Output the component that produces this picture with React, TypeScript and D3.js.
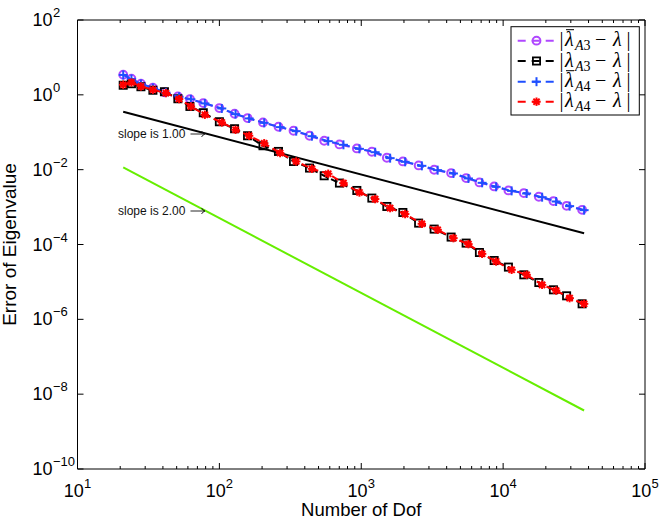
import React from 'react';
import * as d3 from 'd3';

const dofA3 = [21, 24, 28, 34, 41, 51, 62, 77, 100, 128, 158, 203, 261, 333, 432, 548, 702, 931, 1188, 1515, 1965, 2538, 3264, 4300, 5486, 6807, 8644, 10897, 13990, 17850, 22620, 28020, 36040];
const dofA4 = [21, 24, 28, 34, 42, 52, 63, 79, 104, 130, 162, 207, 268, 348, 449, 585, 749, 971, 1253, 1598, 2039, 2674, 3454, 4464, 5693, 7112, 8927, 11479, 14640, 18830, 23630, 29420, 37220];
const errBarA3 = [3.446, 2.695, 1.981, 1.548, 1.173, 0.906, 0.772, 0.603, 0.4437, 0.3124, 0.2397, 0.1828, 0.1403, 0.1097, 0.0806, 0.0593, 0.0472, 0.0369, 0.0301, 0.0208, 0.01657, 0.01295, 0.00994, 0.00811, 0.00596, 0.00455, 0.00356, 0.00278, 0.00237, 0.001886, 0.001447, 0.001083, 0.000847];
const errA3 = [1.806, 1.981, 1.647, 1.327, 1.21, 0.786, 0.4896, 0.3322, 0.1909, 0.1241, 0.0806, 0.0436, 0.0307, 0.01657, 0.01104, 0.00687, 0.00438, 0.00278, 0.00174, 0.001038, 0.000717, 0.000373, 0.000258, 0.000158, 0.000109, 6.11e-5, 3.73e-5, 2.49e-5, 1.548e-5, 9.64e-6, 6.15e-6, 4.25e-6, 2.6e-6];
const errBarA4 = [3.4, 2.66, 1.96, 1.53, 1.15, 0.89, 0.76, 0.59, 0.432, 0.305, 0.234, 0.178, 0.137, 0.107, 0.0785, 0.0578, 0.0462, 0.036, 0.0293, 0.0203, 0.0162, 0.01265, 0.0097, 0.00792, 0.00582, 0.00445, 0.00348, 0.00271, 0.00231, 0.00184, 0.00141, 0.00106, 0.000828];
const errA4 = [1.863, 2.146, 1.677, 1.369, 1.117, 0.772, 0.4896, 0.2937, 0.1828, 0.1166, 0.0806, 0.0508, 0.0278, 0.01657, 0.01057, 0.00777, 0.00438, 0.002458, 0.001636, 0.00094, 0.00065, 0.000358, 0.000247, 0.000148, 0.0001025, 5.64e-5, 3.51e-5, 2.11e-5, 1.548e-5, 8.36e-6, 5.89e-6, 3.69e-6, 2.6e-6];

const refDof = [21, 37220];
const slope1Err = [0.353, 1.99e-4];
const slope2Err = [0.0115, 3.66e-9];

const xTickExps = [1, 2, 3, 4, 5];
const yTickExps = [-10, -8, -6, -4, -2, 0, 2];
const slopeLabels = ['slope is 1.00 ', 'slope is 2.00 '];
const legendSubs = ['A3', 'A3', 'A4', 'A4'];
const legendBars = [true, false, true, false];

const PURPLE = '#b048ff';
const BLUE = '#1f4fff';
const RED = '#ff0000';
const BLACK = '#000000';
const GREEN = '#66ee00';

const L = 77.5, R = 645, T = 20, B = 469;
const SANS = '"Liberation Sans", Arial, Helvetica, sans-serif';
const SERIF = '"Liberation Serif", "Times New Roman", serif';

function Marker({ kind, x, y, color }: { kind: string; x: number; y: number; color: string }) {
  if (kind === 'circle') return <circle cx={x} cy={y} r={3.9} fill="none" stroke={color} strokeWidth={2} />;
  if (kind === 'square') return <rect x={x - 3.6} y={y - 3.6} width={7.2} height={7.2} fill="none" stroke={color} strokeWidth={1.8} />;
  if (kind === 'plus')
    return (
      <g stroke={color} strokeWidth={2}>
        <line x1={x - 4.5} x2={x + 4.5} y1={y} y2={y} />
        <line x1={x} x2={x} y1={y - 4.5} y2={y + 4.5} />
      </g>
    );
  const a = 4.2, d = 3.1;
  return (
    <g stroke={color} strokeWidth={2}>
      <circle cx={x} cy={y} r={2.8} fill={color} stroke="none" />
      <line x1={x - a} x2={x + a} y1={y} y2={y} />
      <line x1={x} x2={x} y1={y - a} y2={y + a} />
      <line x1={x - d} x2={x + d} y1={y - d} y2={y + d} />
      <line x1={x - d} x2={x + d} y1={y + d} y2={y - d} />
    </g>
  );
}

function Arrow({ x0, y0 }: { x0: number; y0: number }) {
  return (
    <g stroke="#111" strokeWidth={0.9} fill="none">
      <line x1={x0} x2={x0 + 14} y1={y0} y2={y0} />
      <path d={`M${x0 + 11},${y0 - 3} Q${x0 + 12.5},${y0 - 0.5} ${x0 + 14.5},${y0} Q${x0 + 12.5},${y0 + 0.5} ${x0 + 11},${y0 + 3}`} />
    </g>
  );
}

export default function App() {
  const x = d3.scaleLog().domain([10, 1e5]).range([L, R]);
  const y = d3.scaleLog().domain([1e-10, 1e2]).range([B, T]);
  const line = (xs: number[], ys: number[]) =>
    d3.line<number>().x((_, i) => x(xs[i])).y((v) => y(v))(ys) || '';

  const series = [
    { xs: dofA3, ys: errBarA3, color: PURPLE, kind: 'circle' },
    { xs: dofA3, ys: errA3, color: BLACK, kind: 'square' },
    { xs: dofA4, ys: errBarA4, color: BLUE, kind: 'plus' },
    { xs: dofA4, ys: errA4, color: RED, kind: 'star' },
  ];

  const minor: number[] = [];
  for (let k = 1; k < 5; k++) for (let m = 2; m <= 9; m++) minor.push(m * Math.pow(10, k));

  const legRows = [40.7, 61, 81.7, 101.7];
  const slopeY = [138, 215];

  return (
    <svg width={664} height={523} style={{ position: 'absolute', left: 0, top: 0, background: '#fff' }}>
      <rect x={0} y={0} width={664} height={523} fill="#fff" />
      {/* reference lines */}
      <path d={line(refDof, slope1Err)} fill="none" stroke={BLACK} strokeWidth={2} />
      <path d={line(refDof, slope2Err)} fill="none" stroke={GREEN} strokeWidth={2} />
      {/* series */}
      {series.map((s, si) => (
        <g key={si}>
          <path d={line(s.xs, s.ys)} fill="none" stroke={s.color} strokeWidth={2} strokeDasharray="7,4" />
          {s.ys.map((v, i) => (
            <Marker key={i} kind={s.kind} x={x(s.xs[i])} y={y(v)} color={s.color} />
          ))}
        </g>
      ))}
      {/* slope annotations */}
      {slopeLabels.map((t, i) => (
        <g key={'sl' + i}>
          <text x={118} y={slopeY[i]} fontFamily={SANS} fontSize={12} fill="#111">{t}</text>
          <Arrow x0={190.5} y0={slopeY[i] - 4} />
        </g>
      ))}
      {/* axes box */}
      <g stroke="#000" strokeWidth={1} fill="none">
        <line x1={L} x2={R} y1={T} y2={T} />
        <line x1={L} x2={R} y1={B} y2={B} />
        <line x1={L} x2={L} y1={T} y2={B} />
        <line x1={R} x2={R} y1={T} y2={B} />
        {xTickExps.map((e) => {
          const px = x(Math.pow(10, e));
          return (
            <g key={'xt' + e}>
              <line x1={px} x2={px} y1={B} y2={B - 6} />
              <line x1={px} x2={px} y1={T} y2={T + 6} />
            </g>
          );
        })}
        {minor.map((v) => {
          const px = x(v);
          return (
            <g key={'xm' + v}>
              <line x1={px} x2={px} y1={B} y2={B - 3} />
              <line x1={px} x2={px} y1={T} y2={T + 3} />
            </g>
          );
        })}
        {yTickExps.map((e) => {
          const py = y(Math.pow(10, e));
          return (
            <g key={'yt' + e}>
              <line x1={L} x2={L + 6} y1={py} y2={py} />
              <line x1={R} x2={R - 6} y1={py} y2={py} />
            </g>
          );
        })}
      </g>
      {/* tick labels */}
      {xTickExps.map((e) => (
        <text key={'xl' + e} x={x(Math.pow(10, e))} y={496.5} textAnchor="middle" fontFamily={SANS} fontSize={18} fill="#000">
          10<tspan fontSize={13} dy={-9}>{String(e)}</tspan>
        </text>
      ))}
      {yTickExps.map((e) => {
        const py = y(Math.pow(10, e));
        return (
          <g key={'yl' + e}>
            <text x={52.5} y={py + 6} textAnchor="end" fontFamily={SANS} fontSize={18} fill="#000">10</text>
            <text x={53} y={py - 3} fontFamily={SANS} fontSize={13} fill="#000">{e < 0 ? '\u2212' + Math.abs(e) : String(e)}</text>
          </g>
        );
      })}
      {/* axis titles */}
      <text x={(L + R) / 2} y={516} textAnchor="middle" fontFamily={SANS} fontSize={18.5} fill="#000">Number of Dof</text>
      <text transform={`translate(15.5, ${(T + B) / 2}) rotate(-90)`} textAnchor="middle" fontFamily={SANS} fontSize={19} fill="#000">Error of Eigenvalue</text>
      {/* legend */}
      <rect x={511} y={26.7} width={128.3} height={88.3} fill="#fff" stroke="#000" strokeWidth={1} />
      {series.map((s, i) => {
        const ry = legRows[i];
        const by = ry + 5.5;
        return (
          <g key={'lg' + i} fontFamily={SERIF} fill="#000">
            <line x1={517.7} x2={555} y1={ry} y2={ry} stroke={s.color} strokeWidth={2} strokeDasharray="8,6" />
            <Marker kind={s.kind} x={536.5} y={ry} color={s.color} />
            <text x={559.5} y={by} fontSize={20}>|</text>
            <text x={565} y={by} fontSize={20} fontStyle="italic">λ</text>
            <text x={575} y={by + 4} fontSize={14}>
              <tspan fontStyle="italic">{legendSubs[i][0]}</tspan>
              <tspan>{legendSubs[i][1]}</tspan>
            </text>
            <text x={595} y={by} fontSize={20}>{'\u2212'}</text>
            <text x={613} y={by} fontSize={20} fontStyle="italic">λ</text>
            <text x={626.5} y={by} fontSize={20}>|</text>
            {legendBars[i] && <line x1={566} x2={574} y1={ry - 11} y2={ry - 11} stroke="#000" strokeWidth={1} />}
          </g>
        );
      })}
    </svg>
  );
}
